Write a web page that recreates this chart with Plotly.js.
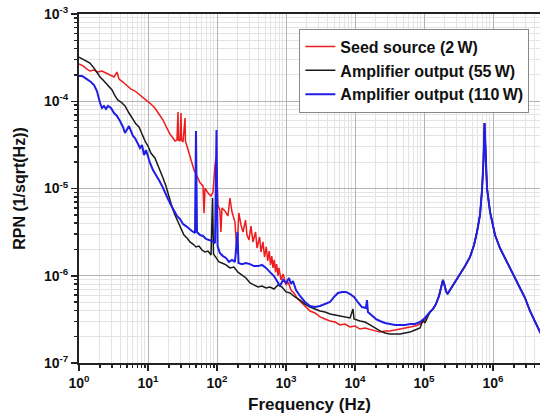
<!DOCTYPE html>
<html>
<head>
<meta charset="utf-8">
<script src="https://cdn.plot.ly/plotly-3.0.1.min.js"></script>
<style>html,body{margin:0;padding:0;background:#fff;}#chart{width:540px;height:417px;}</style>
</head>
<body>
<div id="chart"></div>
<script>
// ---- Seed source (2 W), low/mid frequency part ----
var freqRed = [1,1.14,1.31,1.44,1.65,1.88,2.15,2.46,2.81,3.22,3.55,3.80,4.34,4.96,5.67,6.48,7.41,8.47,9.68,11.0,12.6,14.4,16.5,18.8,20.8,23,24.6,26.3,27.2,27.7,29.1,30.1,30.6,32.2,34.4,34.9,38.0,42.0,46.4,51.3,56.7,62.7,64.9,67,74.1,81.9,87.5,93.6,96.8,100,103,110,114,118,131,144,154,165,182,195,201,207,223,238,259,272,291,311,332,362,380,414,434,464,488,518,543,571,596,622,648,676,704,731,766,792,847,905,1003,1072,1181,1305,1443,1596,1885,2228,2632,3112,3674,4346,5130,6067,7160,8470,10000,11800,13960,19500,23000,27200,32200,38000,44900,53000,62700,74100,87500,103000];
var rpnRed = [2.67e-4,2.54e-4,2.34e-4,2.22e-4,2.28e-4,2.16e-4,2.22e-4,2.10e-4,2.00e-4,1.90e-4,2.16e-4,1.80e-4,1.66e-4,1.53e-4,1.38e-4,1.31e-4,1.21e-4,1.12e-4,1.01e-4,9.3e-5,8.37e-5,7.15e-5,6.09e-5,4.93e-5,4.21e-5,3.79e-5,3.50e-5,3.59e-5,7.54e-5,3.59e-5,3.50e-5,7.33e-5,3.59e-5,3.41e-5,6.43e-5,3.50e-5,2.76e-5,2.01e-5,1.63e-5,1.39e-5,1.16e-5,1.07e-5,5.2e-6,1.01e-5,8.88e-6,8.2e-6,9.1e-6,1.86e-5,2.24e-5,1.43e-5,6.47e-6,5.67e-6,3.17e-6,5.98e-6,5.5e-6,4.84e-6,7.78e-6,5.38e-6,4.13e-6,1.8e-6,3.71e-6,5.24e-6,3.82e-6,3.17e-6,4.35e-6,2.93e-6,2.57e-6,3.71e-6,2.44e-6,3.17e-6,2.08e-6,2.78e-6,1.87e-6,2.44e-6,1.64e-6,2.14e-6,1.48e-6,1.92e-6,1.33e-6,1.68e-6,1.23e-6,1.52e-6,1.10e-6,1.36e-6,9.93e-7,1.23e-6,8.94e-7,1.05e-6,7.83e-7,8.48e-7,6.87e-7,6.34e-7,5.56e-7,5.14e-7,4.5e-7,3.94e-7,3.74e-7,3.37e-7,3.19e-7,3.03e-7,2.95e-7,2.73e-7,2.80e-7,2.59e-7,2.65e-7,2.45e-7,2.52e-7,2.33e-7,2.26e-7,2.33e-7,2.33e-7,2.39e-7,2.45e-7,2.52e-7,2.59e-7,2.65e-7,2.80e-7,3.11e-7];

// ---- Amplifier output (55 W) ----
var freqBlack = [1,1.14,1.31,1.44,1.65,1.82,2.02,2.30,2.63,3.01,3.33,3.67,4.06,4.64,5.30,6.06,6.70,7.41,8.19,9.05,10,11.0,12.6,14.4,16.5,18.2,20.2,22.3,24.6,27.2,30.1,33.2,36.7,40.6,44.9,49.6,54.8,60.6,67,74.1,81.9,86.1,89,96.8,107,118,135,154,176,201,230,263,301,343,393,449,513,586,670,766,875,1003,1143,1350,1596,1885,2228,2632,3112,3674,4346,5130,6067,7160,8470,9350,9680,11800,13960,16500,19500,23000,27200,32200,38000,44900,53000,62700,74100,87500,96800,103000];
var rpnBlack = [3.21e-4,3.05e-4,2.89e-4,2.74e-4,2.40e-4,2.16e-4,1.90e-4,1.71e-4,1.50e-4,1.35e-4,1.15e-4,1.03e-4,9.8e-5,8.83e-5,7.33e-5,6.27e-5,5.48e-5,5.07e-5,4.10e-5,3.50e-5,3.07e-5,2.55e-5,2.24e-5,1.76e-5,1.32e-5,1.07e-5,8.0e-6,6.14e-6,4.97e-6,4.13e-6,3.44e-6,2.93e-6,2.71e-6,2.44e-6,2.31e-6,2.14e-6,2.19e-6,1.97e-6,1.87e-6,1.92e-6,1.73e-6,7.78e-6,1.77e-6,1.60e-6,1.44e-6,1.40e-6,1.33e-6,1.23e-6,1.26e-6,1.10e-6,1.02e-6,9.42e-7,8.26e-7,7.83e-7,7.43e-7,7.63e-7,7.24e-7,7.43e-7,7.05e-7,7.83e-7,7.43e-7,6.52e-7,6.34e-7,5.71e-7,5.27e-7,4.74e-7,4.38e-7,4.16e-7,3.94e-7,3.84e-7,3.65e-7,3.55e-7,3.46e-7,3.37e-7,3.28e-7,4.16e-7,3.19e-7,3.03e-7,2.95e-7,2.73e-7,2.52e-7,2.33e-7,2.21e-7,2.15e-7,2.15e-7,2.15e-7,2.21e-7,2.26e-7,2.39e-7,2.52e-7,3.11e-7,2.87e-7];

// ---- Amplifier output (110 W) ----
var freqBlue = [1,1.11,1.22,1.35,1.49,1.65,1.82,2.02,2.15,2.30,2.46,2.63,2.91,3.22,3.55,3.93,4.34,4.64,4.96,5.30,5.67,6.06,6.48,6.93,7.66,8.19,8.75,9.35,10,10.7,11.8,13.1,14.4,16.0,17.6,19.5,21.5,23.8,26.3,29.1,32.2,35.5,39.3,43.4,48,49.6,51.3,56.7,62.7,69.3,76.6,84.7,93.6,98.3,102,110,122,135,149,165,182,198,205,230,263,301,343,393,449,513,586,670,741,818,905,1003,1105,1181,1263,1396,1596,1885,2228,2632,3112,3674,4346,4960,5670,6480,7410,8470,9680,11000,12600,14400,14900,15400,17600,20200,23000,27200,32200,38000,44900,53000,62700,74100,87500,103000];
var rpnBlue = [1.95e-4,1.95e-4,1.85e-4,1.75e-4,1.66e-4,1.53e-4,1.31e-4,9.55e-5,8.37e-5,8.83e-5,8.15e-5,8.83e-5,8.37e-5,7.33e-5,6.78e-5,5.94e-5,5.07e-5,4.33e-5,4.81e-5,5.20e-5,4.56e-5,4.0e-5,3.79e-5,3.41e-5,2.91e-5,3.15e-5,2.42e-5,2.76e-5,2.24e-5,1.96e-5,1.63e-5,1.39e-5,1.25e-5,1.07e-5,8.88e-6,7.59e-6,6.47e-6,5.67e-6,4.84e-6,4.47e-6,3.92e-6,3.71e-6,3.44e-6,3.26e-6,3.09e-6,4.56e-5,3.17e-6,2.93e-6,2.86e-6,2.64e-6,2.57e-6,2.50e-6,2.37e-6,4.68e-5,2.19e-6,1.82e-6,1.68e-6,1.60e-6,1.44e-6,1.52e-6,1.44e-6,3.17e-6,1.40e-6,1.36e-6,1.40e-6,1.36e-6,1.29e-6,1.29e-6,1.33e-6,1.23e-6,1.10e-6,9.93e-7,8.71e-7,7.63e-7,8.94e-7,8.26e-7,9.42e-7,8.04e-7,8.71e-7,6.87e-7,5.86e-7,5.0e-7,4.5e-7,4.38e-7,4.5e-7,4.74e-7,5.0e-7,5.71e-7,6.34e-7,6.52e-7,6.52e-7,6.18e-7,5.71e-7,5.0e-7,4.38e-7,4.27e-7,5.27e-7,3.84e-7,3.46e-7,3.19e-7,3.03e-7,2.87e-7,2.80e-7,2.73e-7,2.73e-7,2.73e-7,2.80e-7,2.80e-7,2.95e-7,3.28e-7];

// ---- High-frequency part shared by all three (curves overlap above 100 kHz) ----
var freqHF = [122000,135000,149000,165000,176000,188000,195000,208000,219000,238000,281000,333000,393000,464000,531000,586000,648000,693000,728000,753000,779000,818000,906000,1070000,1260000,1490000,1760000,2080000,2460000,2910000,3440000,4060000,4800000,5660000];
var rpnHF = [3.84e-7,4.16e-7,4.74e-7,5.86e-7,7.24e-7,8.94e-7,8.26e-7,6.68e-7,6.18e-7,6.87e-7,8.26e-7,1.05e-6,1.29e-6,1.64e-6,2.25e-6,3.17e-6,4.97e-6,9.62e-6,2.12e-5,5.63e-5,2.12e-5,1.01e-5,5.38e-6,2.93e-6,2.08e-6,1.60e-6,1.26e-6,9.68e-7,7.43e-7,5.56e-7,3.94e-7,2.95e-7,2.26e-7,1.80e-7];

var seriesNames = ['Seed source (2\u2009W)', 'Amplifier output (55\u2009W)', 'Amplifier output (110\u2009W)'];
var xTickVals = [1,10,100,1000,10000,100000,1000000];
var xTickText = ['10<sup>0</sup>','10<sup>1</sup>','10<sup>2</sup>','10<sup>3</sup>','10<sup>4</sup>','10<sup>5</sup>','10<sup>6</sup>'];
var yTickVals = [1e-7,1e-6,1e-5,1e-4,1e-3];
var yTickText = ['10<sup>-7</sup>','10<sup>-6</sup>','10<sup>-5</sup>','10<sup>-4</sup>','10<sup>-3</sup>'];

// minor grid/tick positions (2..9 within each decade)
function minorVals(lo, hi) {
  var out = [];
  for (var e = lo; e < hi; e++) for (var m = 2; m <= 9; m++) out.push(m * Math.pow(10, e));
  return out;
}

var traces = [
  {x: freqRed.concat(freqHF), y: rpnRed.concat(rpnHF), name: seriesNames[0], mode: 'lines', line: {color: '#ee1c1c', width: 1.5}},
  {x: freqBlack.concat(freqHF), y: rpnBlack.concat(rpnHF), name: seriesNames[1], mode: 'lines', line: {color: '#1a1a1a', width: 1.5}},
  {x: freqBlue.concat(freqHF), y: rpnBlue.concat(rpnHF), name: seriesNames[2], mode: 'lines', line: {color: '#1f1fe6', width: 2}}
];

var fontFam = 'Liberation Sans, Arial, sans-serif';
var layout = {
  width: 540, height: 417,
  margin: {l: 79, r: 0, t: 14, b: 54},
  paper_bgcolor: '#fff', plot_bgcolor: '#fff',
  showlegend: true,
  legend: {x: 0.478, y: 0.958, xanchor: 'left', yanchor: 'top', bgcolor: '#fff', bordercolor: '#888', borderwidth: 1,
           font: {family: fontFam, size: 16, color: '#111', weight: 'bold'}, tracegroupgap: 0, itemwidth: 30},
  xaxis: {
    type: 'log', range: [0, 6.681], showline: true, linecolor: '#222', linewidth: 2, mirror: true,
    ticks: 'outside', ticklen: 6, tickwidth: 1.5, tickcolor: '#222',
    tickvals: xTickVals, ticktext: xTickText,
    tickfont: {family: fontFam, size: 14, color: '#111', weight: 'bold'},
    showgrid: true, gridcolor: '#b4b4b4', gridwidth: 1,
    minor: {tickvals: minorVals(0, 7), ticks: 'outside', ticklen: 3, tickcolor: '#222', showgrid: true, gridcolor: '#e4e4e4', gridwidth: 1},
    zeroline: false,
    title: {text: '<b>Frequency (Hz)</b>', font: {family: fontFam, size: 17, color: '#111'}, standoff: 8}
  },
  yaxis: {
    type: 'log', range: [-7, -3], showline: true, linecolor: '#222', linewidth: 2,
    ticks: 'outside', ticklen: 6, tickwidth: 1.5, tickcolor: '#222',
    tickvals: yTickVals, ticktext: yTickText,
    tickfont: {family: fontFam, size: 14, color: '#111', weight: 'bold'},
    showgrid: true, gridcolor: '#b4b4b4', gridwidth: 1,
    minor: {tickvals: minorVals(-7, -3), ticks: 'outside', ticklen: 3, tickcolor: '#222', showgrid: true, gridcolor: '#e4e4e4', gridwidth: 1},
    zeroline: false,
    title: {text: '<b>RPN (1/sqrt(Hz))</b>', font: {family: fontFam, size: 16, color: '#111'}, standoff: 14}
  }
};

Plotly.newPlot('chart', traces, layout, {displayModeBar: false, staticPlot: true});
</script>
</body>
</html>
